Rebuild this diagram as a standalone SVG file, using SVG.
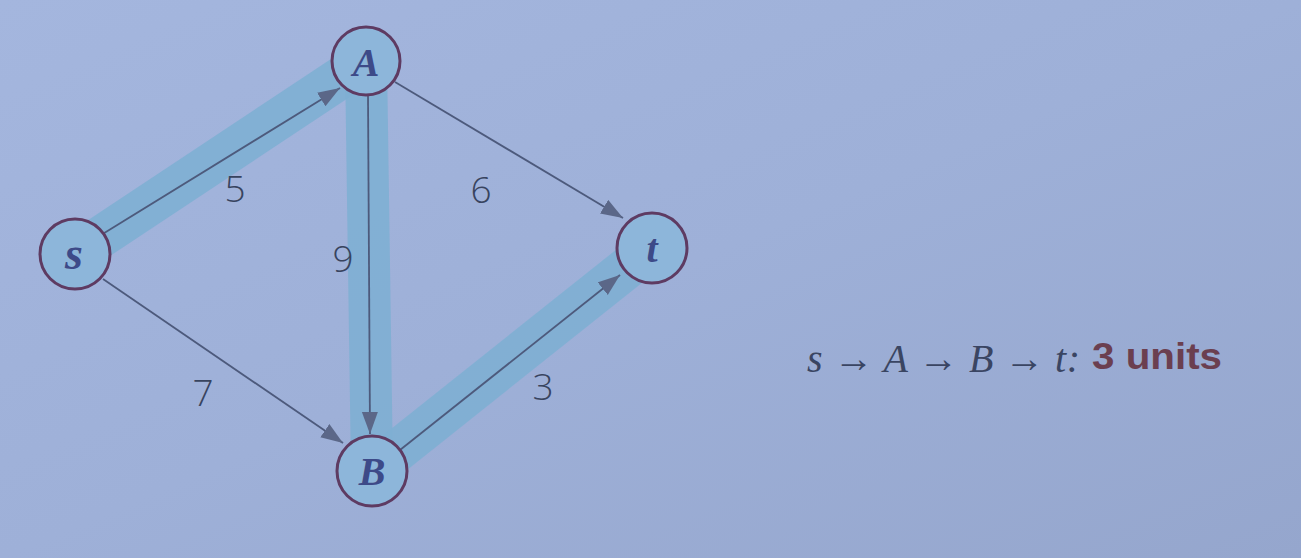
<svg xmlns="http://www.w3.org/2000/svg" width="1301" height="558" viewBox="0 0 1301 558">
  <defs>
    <linearGradient id="bg" x1="0" y1="0" x2="1" y2="1">
      <stop offset="0" stop-color="#a4b6de"/>
      <stop offset="0.5" stop-color="#9eb0d8"/>
      <stop offset="1" stop-color="#95a6cd"/>
    </linearGradient>
    <marker id="arrow" markerUnits="userSpaceOnUse" markerWidth="24" markerHeight="18" refX="22" refY="8" orient="auto">
      <path d="M0,0 L22,8 L0,16 Z" fill="#5b6788"/>
    </marker>
    <style>
      .band { fill: none; stroke: #7eafd3; stroke-width: 42; stroke-linecap: butt; opacity: 0.9; }
      .edge { stroke: #4d5a7c; stroke-width: 1.8; fill: none; marker-end: url(#arrow); }
      .node circle { fill: #8db6da; stroke: #5e3b62; stroke-width: 3; }
      .nlabel { font-family: "Liberation Serif", serif; font-style: italic; font-weight: bold; fill: #3d4a88; text-anchor: middle; }
      .elabel { font-family: "Open Sans", "Liberation Sans", sans-serif; font-weight: 300; font-size: 37px; fill: #38445f; text-anchor: middle; }
      .result { font-family: "Liberation Serif", serif; font-style: italic; font-size: 40px; fill: #3a4562; }
      .units { font-family: "Liberation Sans", sans-serif; font-weight: bold; font-size: 36px; fill: #6b3f50; }
    </style>
  </defs>
  <rect width="1301" height="558" fill="url(#bg)"/>

  <g id="highlight">
    <line class="band" x1="75" y1="254" x2="366" y2="61"/>
    <line class="band" x1="366" y1="61" x2="372" y2="471"/>
    <line class="band" x1="372" y1="471" x2="652" y2="248"/>
  </g>

  <g id="connectors">
    <line class="edge" x1="101" y1="235" x2="340" y2="88"/>
    <line class="edge" x1="395" y1="82" x2="623" y2="218"/>
    <line class="edge" x1="103" y1="279" x2="343" y2="443"/>
    <line class="edge" x1="368" y1="96" x2="370" y2="434"/>
    <line class="edge" x1="400" y1="450" x2="620" y2="275"/>
  </g>

  <g id="edge-labels">
    <text class="elabel" x="235" y="202">5</text>
    <text class="elabel" x="481" y="203">6</text>
    <text class="elabel" x="343" y="272">9</text>
    <text class="elabel" x="203" y="406">7</text>
    <text class="elabel" x="543" y="400">3</text>
  </g>

  <g id="node-s" class="node">
    <circle cx="75" cy="254" r="35"/>
    <text class="nlabel" x="74" y="269" font-size="46">s</text>
  </g>
  <g id="node-A" class="node">
    <circle cx="366" cy="61" r="34"/>
    <text class="nlabel" x="366" y="76" font-size="40">A</text>
  </g>
  <g id="node-t" class="node">
    <circle cx="652" cy="248" r="35"/>
    <text class="nlabel" x="652" y="262" font-size="40">t</text>
  </g>
  <g id="node-B" class="node">
    <circle cx="372" cy="471" r="35"/>
    <text class="nlabel" x="372" y="485" font-size="40">B</text>
  </g>

  <g id="result">
    <text class="result" x="807" y="372" textLength="273" lengthAdjust="spacing">s → A → B → t:</text>
    <text class="units" x="1092" y="369" textLength="130" lengthAdjust="spacingAndGlyphs">3 units</text>
  </g>
</svg>
